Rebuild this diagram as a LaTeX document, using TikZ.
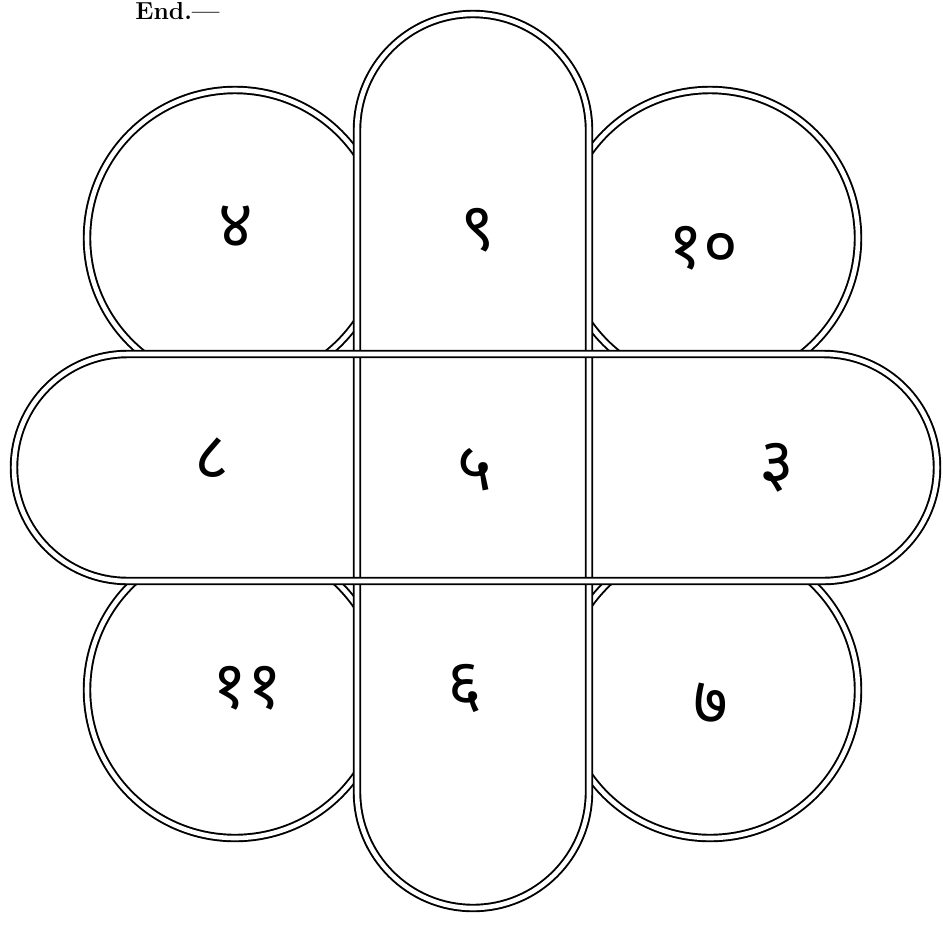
\documentclass[tikz,border=0pt]{standalone}
\usepackage{fontspec}
\usepackage{tikz}
\newfontfamily\devfont[Script=Devanagari]{Noto Sans}

\begin{document}
\begin{tikzpicture}[x=0.02cm, y=-0.02cm,
    dbl/.style={double, double distance=2.6pt, line width=1.1pt},
    numeral/.style={font=\devfont\bfseries\fontsize{38}{42}\selectfont, inner sep=0pt}]
    % Page frame (pixel grid of the scan, y downwards)
    \useasboundingbox (0,0) rectangle (943,927);

    % Caption at the top edge
    \node[anchor=base west, inner sep=0pt, font=\bfseries\fontsize{14}{16}\selectfont] (caption) at (135,19) {End.—};

    % Four corner circles (only the outer arcs stay visible)
    \draw[dbl] (235,238) circle (148);% top left
    \draw[dbl] (710,238) circle (148);% top right
    \draw[dbl] (235,690) circle (148);% bottom left
    \draw[dbl] (710,690) circle (148);% bottom right

    % Blank out the circles inside the two bands
    \fill[white, rounded corners=2.32cm] (357,14) rectangle (589,908);
    \fill[white, rounded corners=2.27cm] (14,354) rectangle (937,581);

    % Vertical band and horizontal band, crossing in the middle
    \draw[dbl, rounded corners=2.32cm] (357,14) rectangle (589,908);
    \draw[dbl, rounded corners=2.27cm] (14,354) rectangle (937,581);

    % Numbers in the nine cells
    \node[numeral] (n11) at (236,227) {४};
    \node[numeral] (n12) at (478,230) {९};
    \node[numeral] (n13) at (703,248) {१०};
    \node[numeral] (n21) at (212,459) {८};
    \node[numeral] (n22) at (475,470) {५};
    \node[numeral] (n23) at (777,468) {३};
    \node[numeral] (n31) at (247,688) {११};
    \node[numeral] (n32) at (465,688) {६};
    \node[numeral] (n33) at (711,704) {७};
\end{tikzpicture}
\end{document}
